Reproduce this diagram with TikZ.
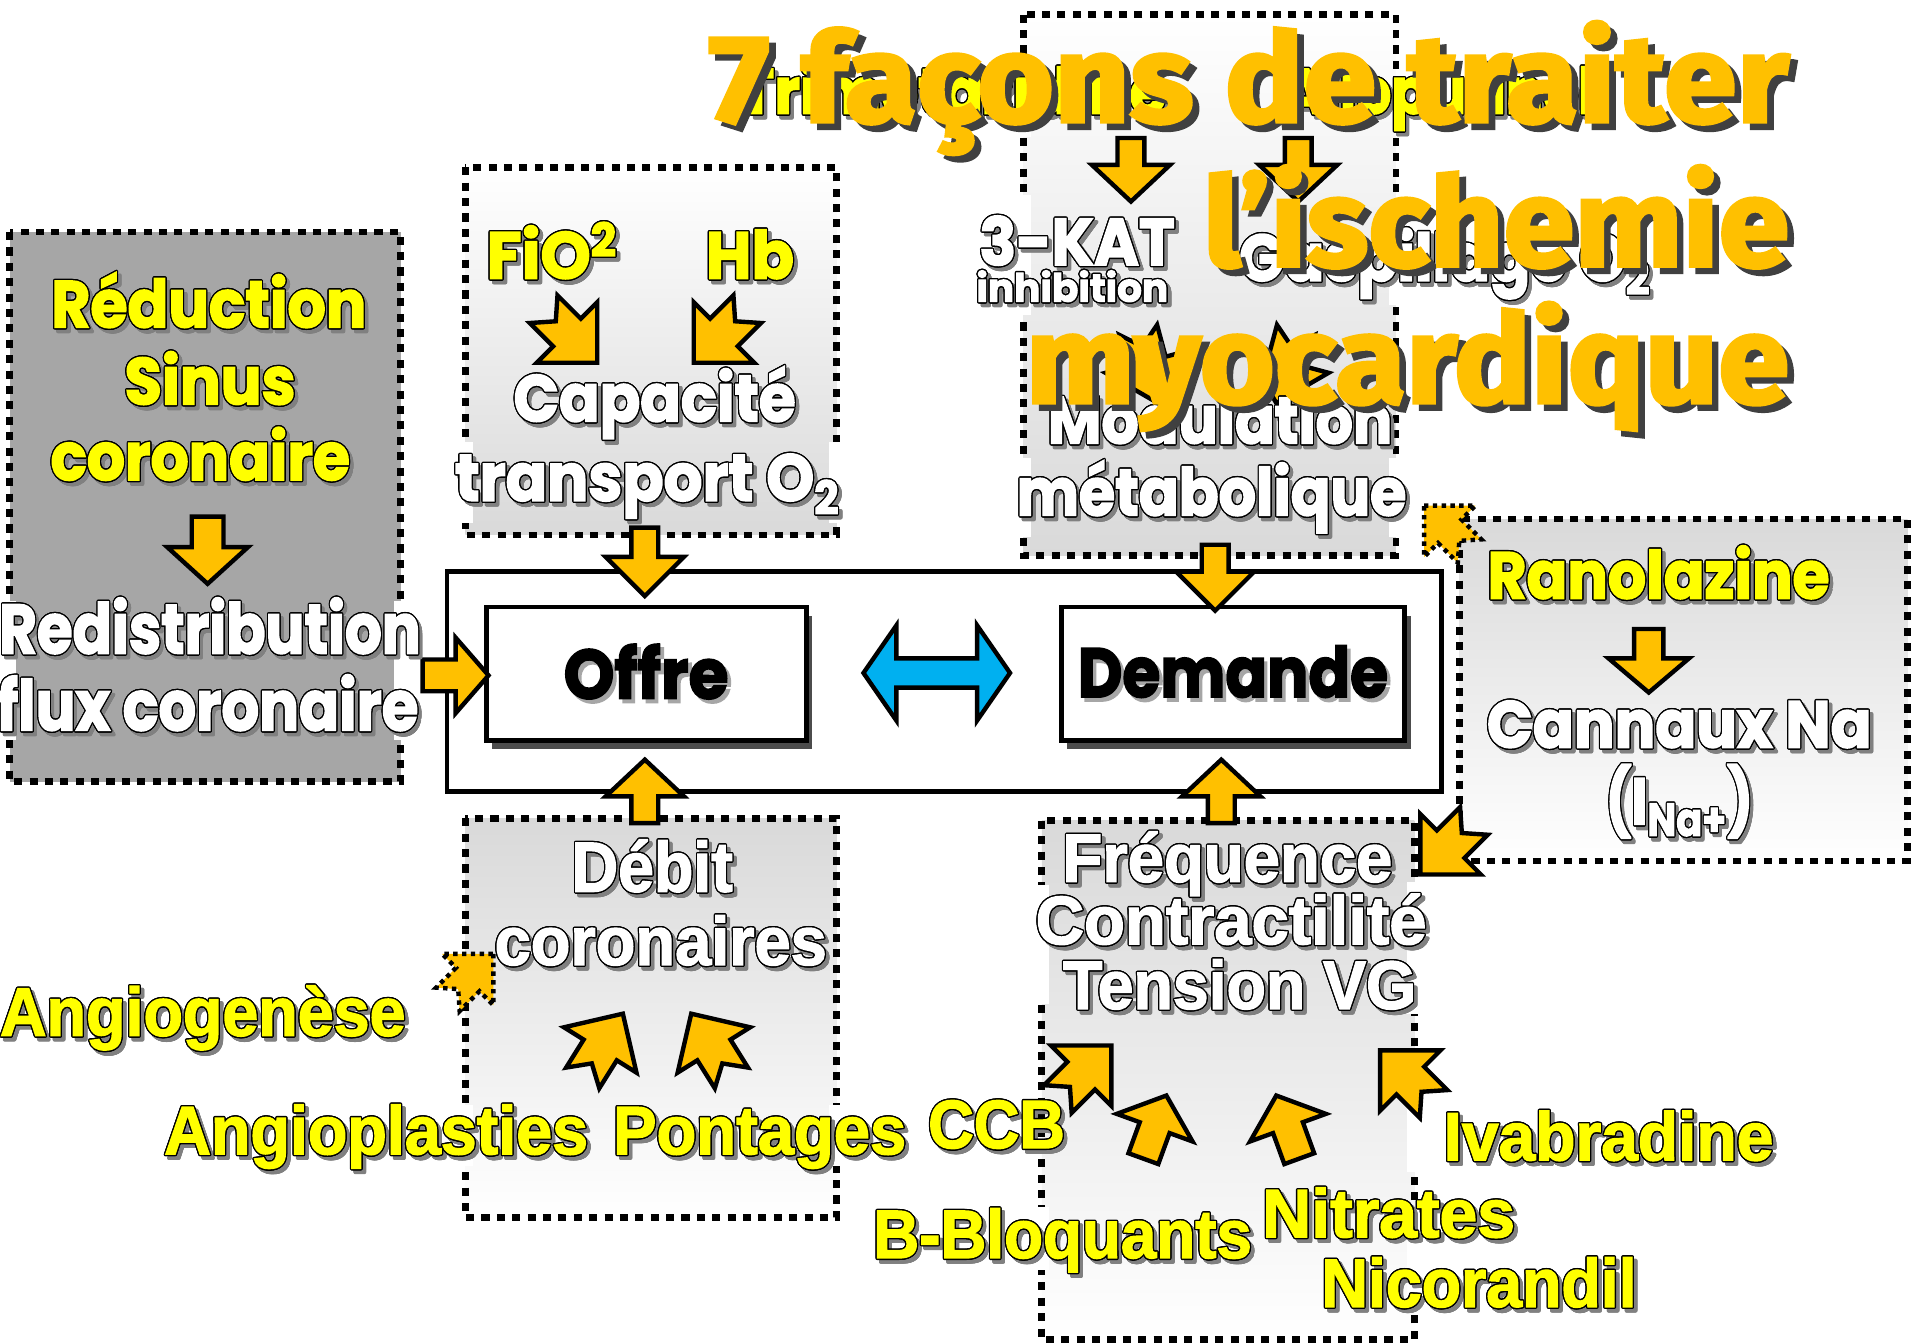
\documentclass[tikz,border=0pt]{standalone}
\usepackage{fontspec}
\usepackage{graphicx}
\usepackage[copies]{contour}
\usetikzlibrary{shadows}
\newfontfamily\geofont{Poppins}[BoldFeatures={FakeBold=2.5}]
\newfontfamily\cndfont{Liberation Sans}[BoldFeatures={FakeBold=2}]
\newfontfamily\ttlfont{Fira Sans}[BoldFeatures={FakeBold=2.5}]
\definecolor{orA}{HTML}{FFC000}
\definecolor{yelA}{HTML}{FFFF00}
\definecolor{bluA}{HTML}{00B0F0}
\definecolor{grA}{HTML}{A6A6A6}
\definecolor{grB}{HTML}{D9D9D9}
\newdimen\pxu \pxu=0.5pt
\contourlength{0.55pt}
\newcommand\fitw[2]{\resizebox{#1\pxu}{\height}{#2}}
\newcommand\otx[2]{\leavevmode\rlap{\kern1.5pt\raisebox{-1.5pt}{\color{black!50}\contour{black!50}{#2}}}{\color{#1}\contour{black}{#2}}}
\newcommand\btx[1]{\leavevmode\rlap{\kern1.6pt\raisebox{-1.6pt}{\color{black!35}#1}}#1}
\newcommand\ttx[1]{\leavevmode\rlap{\kern2.6pt\raisebox{-2.6pt}{\color{black!75}#1}}{\color{orA}#1}}
\tikzset{
  lbl/.style={anchor=base, inner sep=0pt, outer sep=0pt},
  geo/.style={lbl, font=\geofont\bfseries\fontsize{27}{30}\selectfont},
  geobig/.style={lbl, font=\geofont\bfseries\fontsize{28.5}{31}\selectfont},
  cnd/.style={lbl, font=\cndfont\bfseries\fontsize{28}{30}\selectfont},
  ttl/.style={anchor=base east, inner sep=0pt, outer sep=0pt, font=\ttlfont\bfseries\fontsize{51}{55}\selectfont},
  dbox/.style={draw=black, line width=2.8pt, dash pattern=on 3.3pt off 3pt},
  arr/.style={fill=orA, draw=black, line width=1.8pt, line join=miter, miter limit=10},
  darr/.style={fill=orA, draw=black, line width=1.8pt, dash pattern=on 1.8pt off 1.8pt},
  cbox/.style={draw=black, line width=2pt, fill=white, inner sep=0pt,
    drop shadow={shadow xshift=2.5pt, shadow yshift=-3.5pt, opacity=0.7, fill=black}},
  pics/barrow/.style n args={4}{code={\path[pic actions] (0,0) -- (-#2,#3) -- (-#2,#4) -- (-#1,#4) -- (-#1,-#4) -- (-#2,-#4) -- (-#2,-#3) -- cycle;}},
  pics/narrow/.style={code={\path[pic actions] (0,0) -- (-35,35) -- (-35,16) -- (-62,16) -- (-48,0) -- (-62,-16) -- (-35,-16) -- (-35,-35) -- cycle;}},
}
\begin{document}
\begin{tikzpicture}[x=0.5pt,y=-0.5pt]
\useasboundingbox (0,0) rectangle (1568,1100);
% ---------- dashed boxes ----------
\filldraw[dbox, fill=grA] (8,190) rectangle (328,640);
\fill[white] (0,492) rectangle (346,606);
\fill[grA] (13,492) rectangle (323,606);
\draw[dbox, top color=white, bottom color=grB] (381,137) rectangle (685,438);
\draw[dbox, top color=white, bottom color=grB] (838,12) rectangle (1143,455);
\draw[dbox, top color=grB, bottom color=white] (1195,425) rectangle (1562,705);
\draw[dbox, top color=grB, bottom color=white] (381,670) rectangle (685,997);
\draw[dbox, top color=grB, bottom color=white] (853,672) rectangle (1158,1097);
% border gaps
\fill[white] (375,362) rectangle (387,428);
\fill[white] (679,362) rectangle (691,428);
\fill[white] (832,44) rectangle (844,112);
\fill[white] (832,160) rectangle (844,258);
\fill[white] (832,375) rectangle (844,440);
\fill[white] (1137,175) rectangle (1149,250);
\fill[white] (1137,375) rectangle (1149,440);
\fill[white] (375,905) rectangle (387,955);
\fill[white] (679,905) rectangle (691,955);
\fill[white] (847,725) rectangle (859,822);
\fill[white] (847,988) rectangle (859,1040);
\fill[white] (1152,722) rectangle (1164,830);
\fill[white] (1152,860) rectangle (1164,960);
\fill[white] (1152,988) rectangle (1164,1070);
% ---------- central frame ----------
\node[draw=black, line width=2pt, fill=white, minimum width=407pt, minimum height=90pt, inner sep=0pt] (frame) at (773,558) {};
\node[cbox, minimum width=131pt, minimum height=54.5pt] (offre) at (529,551.5)
  {\geofont\bfseries\fontsize{28.5}{31}\selectfont\fitw{135}{\btx{Offre}}};
\node[cbox, minimum width=140.5pt, minimum height=54.5pt] (demande) at (1009.5,551.5)
  {\geofont\bfseries\fontsize{28.5}{31}\selectfont\fitw{254}{\btx{Demande}}};
\draw[fill=bluA, draw=black, line width=1.8pt, line join=miter] (707,551) -- (734,512) -- (734,539) -- (800,539) -- (800,512) -- (827,551) -- (800,590) -- (800,563) -- (734,563) -- (734,590) -- cycle;
% ---------- block arrows ----------
\pic[arr, rotate=-90] at (170,478) {barrow={55}{30}{33}{13}};
\pic[arr] at (400,553) {barrow={54}{27}{31}{13}};
\pic[arr, rotate=-90] at (528,488) {barrow={56}{32}{32}{11}};
\pic[arr, rotate=-90] at (995,500) {barrow={54}{32}{32}{11}};
\pic[arr, rotate=90] at (528,622) {barrow={52}{30}{32}{11}};
\pic[arr, rotate=90] at (1000,622) {barrow={52}{30}{32}{11}};
\pic[arr, rotate=-90] at (926,165) {barrow={52}{30}{32}{11}};
\pic[arr, rotate=-90] at (1063,165) {barrow={52}{30}{32}{11}};
\pic[arr, rotate=-90] at (1350,567) {barrow={52}{28}{33}{12}};
\pic[arr, rotate=70] at (955,897) {barrow={55}{28}{33}{13}};
\pic[arr, rotate=110] at (1045,897) {barrow={55}{28}{33}{13}};
% notched arrows
\pic[arr, rotate=-45] at (489,297) {narrow};
\pic[arr, rotate=-135] at (568,297) {narrow};
\pic[arr, rotate=58] at (510,830) {narrow};
\pic[arr, rotate=122] at (566,830) {narrow};
\pic[arr, rotate=45] at (910,856) {narrow};
\pic[arr, rotate=135] at (1130,860) {narrow};
\pic[arr, rotate=-135] at (1163,716) {narrow};
\pic[arr, rotate=-75] at (948,330) {narrow};
\pic[arr, rotate=-105] at (1045,330) {narrow};
\pic[darr, rotate=135, scale=0.85] at (1166,414) {narrow};
\pic[darr, rotate=45, scale=0.85] at (404,781) {narrow};
% ---------- texts: geometric ----------
\node[geo] (reduc) at (171,268) {\fitw{258}{\otx{yelA}{Réduction}}};
\node[geo] (sinus) at (172,331) {\fitw{140}{\otx{yelA}{Sinus}}};
\node[geo] (coro) at (164,393) {\fitw{245}{\otx{yelA}{coronaire}}};
\node[geobig] (redis) at (172,535) {\fitw{345}{\otx{white}{Redistribution}}};
\node[geobig] (flux) at (170,598) {\fitw{345}{\otx{white}{flux coronaire}}};
\node[geo] (fio) at (452,228) {\fitw{107}{\otx{yelA}{FiO\textsuperscript{2}}}};
\node[geo] (hb) at (614,228) {\fitw{72}{\otx{yelA}{Hb}}};
\node[geo] (capa) at (536,345) {\fitw{231}{\otx{white}{Capacité}}};
\node[geo] (trans) at (530,410) {\fitw{315}{\otx{white}{transport O\textsubscript{2}}}};
\node[geo] (kat) at (882,217) {\fitw{160}{\otx{white}{3-KAT}}};
\node[geo, font=\geofont\bfseries\fontsize{16}{18}\selectfont] (inhib) at (878,247) {\fitw{157}{\otx{white}{inhibition}}};
\node[geo] (gasp) at (1183,230) {\fitw{337}{\otx{white}{Gaspillage O\textsubscript{2}}}};
\node[geo] (modu) at (999,363) {\fitw{282}{\otx{white}{Modulation}}};
\node[geo] (meta) at (992,422) {\fitw{319}{\otx{white}{métabolique}}};
\node[geo] (rano) at (1358,490) {\fitw{280}{\otx{yelA}{Ranolazine}}};
\node[geo] (canna) at (1375,612) {\fitw{315}{\otx{white}{Cannaux Na}}};
\node[geo] (ina) at (1375,675) {\fitw{121}{\otx{white}{(I\textsubscript{Na+})}}};
% ---------- texts: condensed ----------
\node[cnd, font=\cndfont\bfseries\fontsize{29}{31}\selectfont] (debit) at (534,730) {\fitw{132}{\otx{white}{Débit}}};
\node[cnd] (coron) at (541,790) {\fitw{272}{\otx{white}{coronaires}}};
\node[cnd] (angio) at (166,848) {\fitw{332}{\otx{yelA}{Angiogenèse}}};
\node[cnd] (aplas) at (308,945) {\fitw{347}{\otx{yelA}{Angioplasties}}};
\node[cnd] (pont) at (622,945) {\fitw{240}{\otx{yelA}{Pontages}}};
\node[cnd] (ccb) at (816,940) {\fitw{112}{\otx{yelA}{CCB}}};
\node[cnd] (freq) at (1005,722) {\fitw{270}{\otx{white}{Fréquence}}};
\node[cnd] (contr) at (1008,773) {\fitw{320}{\otx{white}{Contractilité}}};
\node[cnd] (tens) at (1015,826) {\fitw{289}{\otx{white}{Tension VG}}};
\node[cnd] (ivab) at (1317,950) {\fitw{270}{\otx{yelA}{Ivabradine}}};
\node[cnd] (bblo) at (870,1030) {\fitw{310}{\otx{yelA}{B-Bloquants}}};
\node[cnd] (nitr) at (1137,1013) {\fitw{207}{\otx{yelA}{Nitrates}}};
\node[cnd] (nico) at (1211,1070) {\fitw{258}{\otx{yelA}{Nicorandil}}};
% ---------- hidden yellow texts and title ----------
\node[geo, font=\geofont\bfseries\fontsize{26}{28}\selectfont] (trim) at (780,93) {\fitw{350}{\otx{yelA}{Trimetazidine}}};
\node[geo, font=\geofont\bfseries\fontsize{26}{28}\selectfont] (allo) at (1178,93) {\fitw{255}{\otx{yelA}{Allopurinol}}};
\node[ttl] (t1) at (1465,100) {\fitw{885}{\ttx{7 façons de traiter}}};
\node[ttl] (t2) at (1465,218) {\fitw{480}{\ttx{l’ischemie}}};
\node[ttl] (t3) at (1465,330) {\fitw{625}{\ttx{myocardique}}};
\end{tikzpicture}
\end{document}
